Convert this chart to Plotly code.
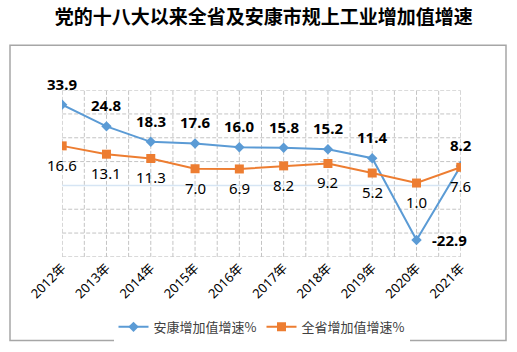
import plotly.graph_objects as go

years = ["2012年", "2013年", "2014年", "2015年", "2016年", "2017年", "2018年", "2019年", "2020年", "2021年"]
ankang = [33.9, 24.8, 18.3, 17.6, 16.0, 15.8, 15.2, 11.4, -22.9, 8.2]
province = [16.6, 13.1, 11.3, 7.0, 6.9, 8.2, 9.2, 5.2, 1.0, 7.6]
grid_y = [-30, -20, -10, 10, 20, 30, 40]
name_ankang = "安康增加值增速%"
name_province = "全省增加值增速%"
title_text = "党的十八大以来全省及安康市规上工业增加值增速"

FONT = "Noto Sans, Noto Sans CJK SC, sans-serif"
BLUE = "#5b9bd5"
ORANGE = "#ed7d31"
GRID = "#c4c4c4"
DASH = "4px,2px"

xs = list(range(len(years)))
x_lo, x_hi = xs[0], xs[-1]
y_lo, y_hi = grid_y[0], grid_y[-1]

# grid lines (built from the axis grid values)
gx, gy = [], []
for k in range(2 * x_hi + 1):
    gx += [k / 2, k / 2, None]
    gy += [y_lo, y_hi, None]
hx, hy = [], []
for g in grid_y:
    hx += [x_lo, x_hi, None]
    hy += [g, g, None]

fig = go.Figure()
fig.add_trace(go.Scatter(x=gx, y=gy, mode="lines", line=dict(color=GRID, width=1, dash=DASH),
                         hoverinfo="skip", showlegend=False))
fig.add_trace(go.Scatter(x=hx, y=hy, mode="lines", line=dict(color=GRID, width=1, dash=DASH),
                         hoverinfo="skip", showlegend=False))
fig.add_trace(go.Scatter(x=[x_lo, x_hi], y=[0, 0], mode="lines", line=dict(color="#d6e5f4", width=1.5),
                         hoverinfo="skip", showlegend=False))
fig.add_trace(go.Scatter(
    x=xs, y=ankang, name=name_ankang, mode="lines+markers",
    line=dict(color=BLUE, width=2),
    marker=dict(symbol="diamond", size=8, color=BLUE),
))
fig.add_trace(go.Scatter(
    x=xs, y=province, name=name_province, mode="lines+markers",
    line=dict(color=ORANGE, width=2),
    marker=dict(symbol="square", size=9, color=ORANGE),
))

annotations = []
for i, v in enumerate(ankang):
    if v < 0:
        annotations.append(dict(x=i, y=v, text=f"{v:.1f}", showarrow=False,
                                xshift=33, yshift=0,
                                font=dict(family=FONT, size=15, color="#000000", weight="bold")))
    else:
        annotations.append(dict(x=i, y=v, text=f"{v:.1f}", showarrow=False,
                                yshift=21,
                                font=dict(family=FONT, size=15, color="#000000", weight="bold")))
for i, v in enumerate(province):
    annotations.append(dict(x=i, y=v, text=f"{v:.1f}", showarrow=False,
                            yshift=-19,
                            font=dict(family=FONT, size=15, color="#000000")))

fig.update_layout(
    width=517, height=352,
    margin=dict(l=62, r=56, t=90, b=94),
    paper_bgcolor="white", plot_bgcolor="white",
    title=dict(text=title_text, x=0.51, xanchor="center", y=0.952, yanchor="middle",
               yref="container",
               font=dict(family="Noto Sans CJK SC", size=19, color="#000000", weight="bold")),
    showlegend=True,
    legend=dict(orientation="h", x=0.5, xanchor="center", y=-0.41, yanchor="middle",
                font=dict(family="Noto Sans CJK SC", size=13, color="#404040"),
                itemwidth=30, tracegroupgap=0),
    annotations=annotations,
    shapes=[dict(type="rect", xref="paper", yref="paper",
                 x0=-52 / 399, x1=444 / 399, y0=(258 - 342) / 168, y1=(258 - 45) / 168,
                 line=dict(color="#a6a6a6", width=1.5), fillcolor="rgba(0,0,0,0)", layer="above")],
)

fig.update_xaxes(
    range=[-0.004, 9.004], tickmode="array", tickvals=xs, ticktext=years, tickangle=-45,
    showgrid=False, showline=False, zeroline=False, ticks="",
    tickfont=dict(family=FONT, size=13, color="#000000"),
)
fig.update_yaxes(
    range=[-30.05, 40.05], showticklabels=False,
    showgrid=False, zeroline=False, showline=False, ticks="",
)

fig.write_html("out.html")
